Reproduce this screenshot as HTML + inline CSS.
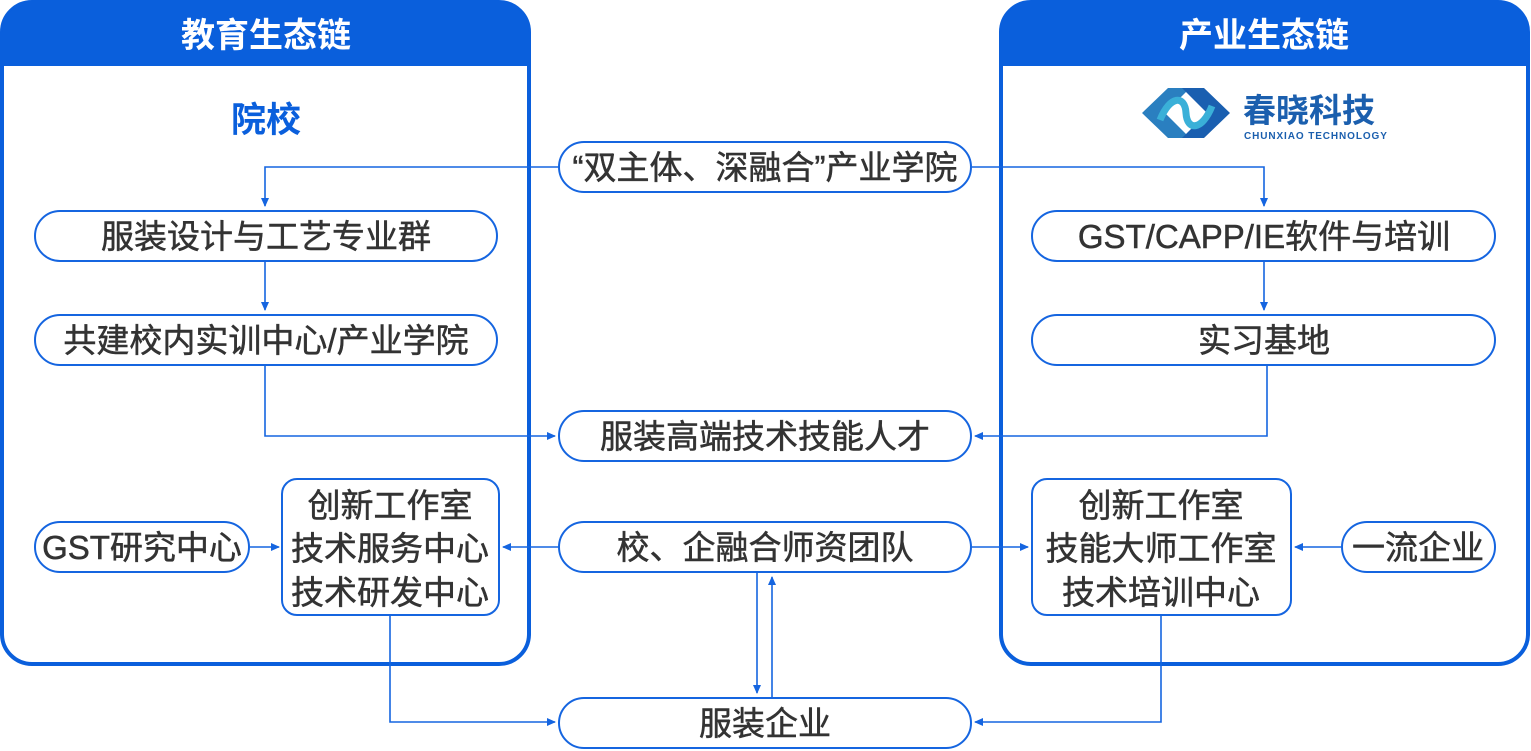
<!DOCTYPE html>
<html><head><meta charset="utf-8"><style>
html,body{margin:0;padding:0;background:#fff;width:1531px;height:751px;overflow:hidden}
svg text{font-family:"Liberation Sans","Noto Sans CJK SC",sans-serif}
</style></head><body>
<svg width="1531" height="751" viewBox="0 0 1531 751" xmlns="http://www.w3.org/2000/svg">
<defs>
<marker id="a" markerWidth="10" markerHeight="10" refX="8" refY="5" orient="auto" markerUnits="userSpaceOnUse">
<path d="M0,1 L9,5 L0,9 z" fill="#1565e0"/></marker>
</defs>
<rect x="2" y="2" width="527" height="662" rx="30" fill="#fff" stroke="#0a5fdc" stroke-width="4"/>
<path d="M2,66 V32 A30,30 0 0 1 32,2 H499 A30,30 0 0 1 529,32 V66 Z" fill="#0a5fdc"/>
<rect x="1001" y="2" width="527" height="662" rx="30" fill="#fff" stroke="#0a5fdc" stroke-width="4"/>
<path d="M1001,66 V32 A30,30 0 0 1 1031,2 H1498 A30,30 0 0 1 1528,32 V66 Z" fill="#0a5fdc"/>
<text x="266" y="47" font-size="34" font-weight="bold" fill="#fff" text-anchor="middle">教育生态链</text>
<text x="1264" y="47" font-size="34" font-weight="bold" fill="#fff" text-anchor="middle">产业生态链</text>
<text x="266" y="132" font-size="35" font-weight="bold" fill="#0a5fdc" text-anchor="middle">院校</text>
<g>
<path d="M1142,113 L1168,88 L1190,88 L1165,113 L1190,138 L1168,138 Z" fill="#2a7fc0"/>
<path d="M1230,113 L1204,88 L1182,88 L1207,113 L1182,138 L1204,138 Z" fill="#1a5fb0"/>
<path d="M1160,120 C1170,95 1185,95 1186,113 C1187,131 1202,131 1212,106" fill="none" stroke="#3ab0d8" stroke-width="7"/>
</g>
<text x="1243" y="122" font-size="33" font-weight="bold" fill="#1b5fae">春晓科技</text>
<text x="1244" y="139" font-size="10" font-weight="bold" fill="#1b5fae" letter-spacing="0.9">CHUNXIAO TECHNOLOGY</text>
<g fill="none" stroke="#1565e0" stroke-width="1.6">
<path d="M558,167 H265 V206" marker-end="url(#a)"/>
<path d="M972,167 H1264 V206" marker-end="url(#a)"/>
<path d="M265,262 V310" marker-end="url(#a)"/>
<path d="M1264,262 V310" marker-end="url(#a)"/>
<path d="M265,366 V436 H555" marker-end="url(#a)"/>
<path d="M1267,366 V436 H975" marker-end="url(#a)"/>
<path d="M558,547 H503" marker-end="url(#a)"/>
<path d="M972,547 H1028" marker-end="url(#a)"/>
<path d="M250,547 H279" marker-end="url(#a)"/>
<path d="M1341,547 H1295" marker-end="url(#a)"/>
<path d="M390,616 V722 H555" marker-end="url(#a)"/>
<path d="M1161,616 V722 H975" marker-end="url(#a)"/>
<path d="M757,573 V693" marker-end="url(#a)"/>
<path d="M772,697 V577" marker-end="url(#a)"/>
</g>
<g fill="#fff" stroke="#1565e0" stroke-width="2">
<rect x="559" y="142" width="412" height="50" rx="25"/>
<rect x="35" y="211" width="462" height="50" rx="25"/>
<rect x="35" y="315" width="462" height="50" rx="25"/>
<rect x="1032" y="211" width="463" height="50" rx="25"/>
<rect x="1032" y="315" width="463" height="50" rx="25"/>
<rect x="559" y="411" width="412" height="50" rx="25"/>
<rect x="559" y="522" width="412" height="50" rx="25"/>
<rect x="559" y="698" width="412" height="50" rx="25"/>
<rect x="35" y="522" width="214" height="50" rx="25"/>
<rect x="1342" y="522" width="153" height="50" rx="25"/>
<rect x="282" y="479" width="217" height="136" rx="15"/>
<rect x="1032" y="479" width="259" height="136" rx="15"/>
</g>
<g font-size="33" fill="#333" stroke="#333" stroke-width="0.5" text-anchor="middle">
<text x="765" y="179">“双主体、深融合”产业学院</text>
<text x="266" y="248">服装设计与工艺专业群</text>
<text x="266" y="352">共建校内实训中心/产业学院</text>
<text x="1264" y="248">GST/CAPP/IE软件与培训</text>
<text x="1264" y="352">实习基地</text>
<text x="765" y="448">服装高端技术技能人才</text>
<text x="765" y="559">校、企融合师资团队</text>
<text x="765" y="735">服装企业</text>
<text x="142" y="559">GST研究中心</text>
<text x="1418" y="559">一流企业</text>
<text x="390" y="517">创新工作室</text>
<text x="390" y="560">技术服务中心</text>
<text x="390" y="604">技术研发中心</text>
<text x="1161" y="517">创新工作室</text>
<text x="1161" y="560">技能大师工作室</text>
<text x="1161" y="604">技术培训中心</text>
</g>
</svg>
</body></html>
